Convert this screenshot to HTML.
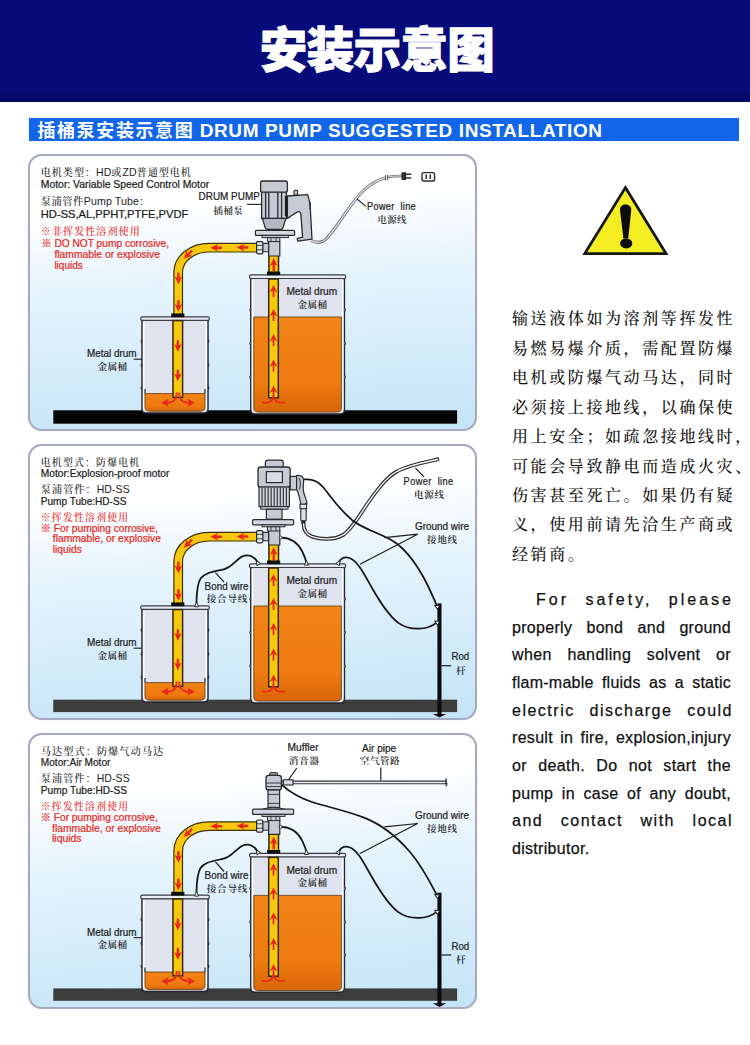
<!DOCTYPE html>
<html lang="zh-CN">
<head>
<meta charset="utf-8">
<title>安装示意图</title>
<style>
html,body{margin:0;padding:0;}
body{width:750px;height:1045px;position:relative;overflow:hidden;background:#fff;
  font-family:"Liberation Sans","Noto Sans CJK SC",sans-serif;}
#hdr{position:absolute;left:0;top:0;width:750px;height:101.5px;
  background:linear-gradient(#080b7a 0,#080b7a 88px,#070a6e 93px,#060966 101.5px);}
#title{position:absolute;left:2px;top:13px;width:750px;text-align:center;color:#fff;
  font-family:"Noto Sans CJK SC","Liberation Sans",sans-serif;font-weight:900;
  font-size:47.5px;line-height:68px;letter-spacing:-0.6px;white-space:nowrap;
  -webkit-text-stroke:1.1px #fff;}
#bar{position:absolute;left:29.2px;top:118.3px;width:709.6px;height:22.6px;background:#1266ea;}
#bar .cn{position:absolute;left:8.3px;top:-3px;color:#fff;font-weight:700;font-size:18px;line-height:28px;
  letter-spacing:1.6px;white-space:nowrap;font-family:"Noto Sans CJK SC",sans-serif;}
#bar .en{position:absolute;left:170.5px;top:-1.8px;color:#fff;font-weight:700;font-size:19px;line-height:28px;
  letter-spacing:0.62px;white-space:nowrap;font-family:"Liberation Sans",sans-serif;}
.panel{position:absolute;left:28px;width:445px;border:2px solid #a6a9bf;border-radius:14px;
  background:linear-gradient(176deg,#ffffff 0%,#ffffff 20%,#e6f4fc 45%,#d3ebf9 75%,#c4e4f6 100%);
  box-shadow:0 0 1px #b9bdd0;}
#p1{top:154.4px;height:272.8px;}
#p2{top:444px;height:272px;}
#p3{top:733.4px;height:271.6px;}
#art{position:absolute;left:0;top:0;width:750px;height:1045px;}
.cnr{position:absolute;left:512px;width:222px;font-family:"Noto Serif CJK SC","Liberation Serif",serif;
  font-size:16px;line-height:30px;height:30px;color:#141414;font-weight:500;white-space:nowrap;letter-spacing:2.6px;}
.enr{position:absolute;left:512px;width:219px;font-family:"Liberation Sans",sans-serif;
  font-size:16px;line-height:28px;height:28px;color:#111;-webkit-text-stroke:0.25px #111;white-space:nowrap;
  text-align:justify;text-align-last:justify;}
</style>
</head>
<body>
<div id="hdr"></div>
<div id="title">安装示意图</div>
<div id="bar"><span class="cn">插桶泵安装示意图</span><span class="en">DRUM PUMP SUGGESTED INSTALLATION</span></div>

<div class="panel" id="p1"></div>
<div class="panel" id="p2"></div>
<div class="panel" id="p3"></div>

<svg id="art" width="750" height="1045" viewBox="0 0 750 1045">
<defs><linearGradient id="liq" x1="0" y1="0" x2="0" y2="1"><stop offset="0" stop-color="#f28416"/><stop offset="0.7" stop-color="#ee7a10"/><stop offset="1" stop-color="#d96608"/></linearGradient></defs>
<path d="M625.4 187.6L666 253.6H584.8Z" fill="#f5ee22" stroke="#161616" stroke-width="2.8" stroke-linejoin="miter"/>
<path d="M620 210C619.4 202.6 631.8 202.6 631.2 210L628.2 238.4H623.4Z" fill="#0c0c0c"/>
<ellipse cx="626.2" cy="243.4" rx="6" ry="5" fill="#0c0c0c"/>
<g transform="translate(0 0)">
<rect x="53.3" y="410.3" width="403.8" height="13.4" fill="#050505"/>
<path d="M257 247.7H209C192 247.7 178.2 258.6 178.2 272.5V314" fill="none" stroke="#3d3208" stroke-width="9.8"/>
<path d="M257 247.7H209C192 247.7 178.2 258.6 178.2 272.5V314" fill="none" stroke="#f8c80f" stroke-width="7.4"/>
<g transform="translate(242.5 247.5) rotate(180)"><path d="M-5.8 0H0.2" stroke="#e8261c" stroke-width="2.4" fill="none"/><path d="M5.8 0L-2 -3.8L0 0L-2 3.8Z" fill="#e8261c"/></g>
<g transform="translate(216.2 247.8) rotate(180)"><path d="M-5.8 0H0.2" stroke="#e8261c" stroke-width="2.4" fill="none"/><path d="M5.8 0L-2 -3.8L0 0L-2 3.8Z" fill="#e8261c"/></g>
<g transform="translate(188 254.6) rotate(135)"><path d="M-5.8 0H0.2" stroke="#e8261c" stroke-width="2.4" fill="none"/><path d="M5.8 0L-2 -3.8L0 0L-2 3.8Z" fill="#e8261c"/></g>
<g transform="translate(178.4 278.5) rotate(90)"><path d="M-5.8 0H0.2" stroke="#e8261c" stroke-width="2.4" fill="none"/><path d="M5.8 0L-2 -3.8L0 0L-2 3.8Z" fill="#e8261c"/></g>
<g transform="translate(178.4 306) rotate(90)"><path d="M-5.8 0H0.2" stroke="#e8261c" stroke-width="2.4" fill="none"/><path d="M5.8 0L-2 -3.8L0 0L-2 3.8Z" fill="#e8261c"/></g>
<path d="M142 319.8V409Q142 413 146 413H204Q208 413 208 409V319.8Z" fill="#dfe3ee" stroke="#26262e" stroke-width="1.5"/>
<path d="M143.7 321.8V409M206.3 321.8V409" stroke="#ffffff" stroke-width="1.6" fill="none" opacity="0.95"/>
<path d="M142 339.4q-1.8 1.6 0 3.2" stroke="#26262e" stroke-width="1.2" fill="#eef0f6"/>
<path d="M208 339.4q1.8 1.6 0 3.2" stroke="#26262e" stroke-width="1.2" fill="#eef0f6"/>
<path d="M142 363.4q-1.8 1.6 0 3.2" stroke="#26262e" stroke-width="1.2" fill="#eef0f6"/>
<path d="M208 363.4q1.8 1.6 0 3.2" stroke="#26262e" stroke-width="1.2" fill="#eef0f6"/>
<path d="M142 386.4q-1.8 1.6 0 3.2" stroke="#26262e" stroke-width="1.2" fill="#eef0f6"/>
<path d="M208 386.4q1.8 1.6 0 3.2" stroke="#26262e" stroke-width="1.2" fill="#eef0f6"/>
<path d="M145 393.6V407.2Q145 411.2 150 411.2H200Q205 411.2 205 407.2V393.6Z" fill="url(#liq)" stroke="#5a3a10" stroke-width="0.8"/>
<path d="M145 389.1V393.6M205 389.1V393.6" stroke="#26262e" stroke-width="1.2"/>
<rect x="140.7" y="316.8" width="68.6" height="3.6" rx="1.6" fill="#e9ecf3" stroke="#3a3c44" stroke-width="1.2"/>
<rect x="173" y="320.6" width="9.6" height="76.8" fill="#f8c80f" stroke="#33290a" stroke-width="1.5"/>
<g transform="translate(177.9 346) rotate(90)"><path d="M-5.8 0H0.2" stroke="#e8261c" stroke-width="2.4" fill="none"/><path d="M5.8 0L-2 -3.8L0 0L-2 3.8Z" fill="#e8261c"/></g>
<g transform="translate(177.9 375.5) rotate(90)"><path d="M-5.8 0H0.2" stroke="#e8261c" stroke-width="2.4" fill="none"/><path d="M5.8 0L-2 -3.8L0 0L-2 3.8Z" fill="#e8261c"/></g>
<path d="M176.6 392.5C176.6 400 174 402.6 166 402.8M179.2 392.5C179.2 400 182 402.6 190 402.8" fill="none" stroke="#e8261c" stroke-width="1.9"/>
<path d="M161.2 402.8L168.4 398.8L167.2 402.8L168.4 406.8ZM194.9 402.8L187.7 398.8L188.9 402.8L187.7 406.8Z" fill="#e8261c"/>
<rect x="171.2" y="313.4" width="13.2" height="3.8" fill="#111"/>
<path d="M250.8 277.9V409.9Q250.8 413.9 254.8 413.9H340.4Q344.4 413.9 344.4 409.9V277.9Z" fill="#dfe3ee" stroke="#26262e" stroke-width="1.5"/>
<path d="M252.5 279.9V409.9M342.7 279.9V409.9" stroke="#ffffff" stroke-width="1.6" fill="none" opacity="0.95"/>
<path d="M250.8 308.4q-1.8 1.6 0 3.2" stroke="#26262e" stroke-width="1.2" fill="#eef0f6"/>
<path d="M344.4 308.4q1.8 1.6 0 3.2" stroke="#26262e" stroke-width="1.2" fill="#eef0f6"/>
<path d="M250.8 341.9q-1.8 1.6 0 3.2" stroke="#26262e" stroke-width="1.2" fill="#eef0f6"/>
<path d="M344.4 341.9q1.8 1.6 0 3.2" stroke="#26262e" stroke-width="1.2" fill="#eef0f6"/>
<path d="M250.8 375.4q-1.8 1.6 0 3.2" stroke="#26262e" stroke-width="1.2" fill="#eef0f6"/>
<path d="M344.4 375.4q1.8 1.6 0 3.2" stroke="#26262e" stroke-width="1.2" fill="#eef0f6"/>
<path d="M253.8 317V408.1Q253.8 412.1 258.8 412.1H336.4Q341.4 412.1 341.4 408.1V317Z" fill="url(#liq)" stroke="#5a3a10" stroke-width="0.8"/>
<rect x="249.5" y="274.9" width="96.2" height="3.6" rx="1.6" fill="#e9ecf3" stroke="#3a3c44" stroke-width="1.2"/>
<rect x="268.7" y="279" width="9.6" height="118.8" fill="#f8c80f" stroke="#33290a" stroke-width="1.5"/>
<path d="M273.5 297V289.5" stroke="#e8261c" stroke-width="1.8" fill="none"/><path d="M273.5 285.1L269.6 292.5L273.5 290.3L277.4 292.5Z" fill="#e8261c"/>
<path d="M273.5 321V313.5" stroke="#e8261c" stroke-width="1.8" fill="none"/><path d="M273.5 309.1L269.6 316.5L273.5 314.3L277.4 316.5Z" fill="#e8261c"/>
<path d="M273.5 346V338.5" stroke="#e8261c" stroke-width="1.8" fill="none"/><path d="M273.5 334.1L269.6 341.5L273.5 339.3L277.4 341.5Z" fill="#e8261c"/>
<path d="M273.5 371.5V364" stroke="#e8261c" stroke-width="1.8" fill="none"/><path d="M273.5 359.6L269.6 367L273.5 364.8L277.4 367Z" fill="#e8261c"/>
<path d="M273.5 397.5V390" stroke="#e8261c" stroke-width="1.8" fill="none"/><path d="M273.5 385.6L269.6 393L273.5 390.8L277.4 393Z" fill="#e8261c"/>
<path d="M262 402.4C269 403.6 272.6 401.5 273.5 396C274.4 401.5 278 403.6 285 402.4" fill="none" stroke="#e8261c" stroke-width="1.6"/>
<rect x="268.9" y="255" width="9.6" height="17.4" fill="#f8c80f" stroke="#33290a" stroke-width="1.5"/>
<g transform="translate(273.7 264.6) rotate(270)"><path d="M-6.5 0H0.9" stroke="#e8261c" stroke-width="2.4" fill="none"/><path d="M6.5 0L-1.3 -3.8L0.7 0L-1.3 3.8Z" fill="#e8261c"/></g>
<rect x="267" y="271.6" width="13.2" height="3.6" fill="#111"/>
<path d="M268.6 241.5H279.8V256H268.6Z" fill="#c6cad4" stroke="#2a2a2a" stroke-width="1.2"/>
<path d="M262.6 243.4H268.6V251.8H262.6Z" fill="#c6cad4" stroke="#2a2a2a" stroke-width="1.1"/>
<rect x="256.6" y="241.6" width="6.2" height="12.2" rx="1.2" fill="#e4e6ec" stroke="#2a2a2a" stroke-width="1.2"/>
<path d="M256.6 245.4H262.8M256.6 249.8H262.8" stroke="#2a2a2a" stroke-width="0.9"/>
<text x="286.4" y="295.4" font-size="10.2" fill="#1c1c1c" font-family='"Liberation Sans","Noto Sans CJK SC",sans-serif' textLength="50.8" lengthAdjust="spacingAndGlyphs" stroke="#1c1c1c" stroke-width="0.22" >Metal drum</text>
<text x="297.6" y="308" font-size="9.6" fill="#262626" font-family='"Liberation Sans","Noto Serif CJK SC",serif' letter-spacing="0.4" font-weight="600" >金属桶</text>
<text x="87" y="357.4" font-size="10.2" fill="#1c1c1c" font-family='"Liberation Sans","Noto Sans CJK SC",sans-serif' textLength="49.6" lengthAdjust="spacingAndGlyphs" stroke="#1c1c1c" stroke-width="0.22" >Metal drum</text>
<text x="97.6" y="369.8" font-size="9.6" fill="#262626" font-family='"Liberation Sans","Noto Serif CJK SC",serif' letter-spacing="0.4" font-weight="600" >金属桶</text>
<path d="M133.6 359.2H142" stroke="#2a2a2a" stroke-width="1.2"/>
</g>
<path d="M311 240.5C316 243 322 243.5 327 238C340 224 350 203 364 190C372 183 380 179 386 177.6" fill="none" stroke="#6d6d72" stroke-width="3"/>
<path d="M311 240.5C316 243 322 243.5 327 238C340 224 350 203 364 190C372 183 380 179 386 177.6" fill="none" stroke="#e9edf2" stroke-width="1.1"/>
<path d="M385.6 175V180.4M387.6 174.6V180" stroke="#444" stroke-width="0.9"/>
<path d="M388 177.2C392 176 396 176 401.5 176" fill="none" stroke="#6d6d72" stroke-width="2.6"/>
<path d="M388 177.2C392 176 396 176 401.5 176" fill="none" stroke="#e9edf2" stroke-width="0.9"/>
<rect x="401.4" y="172.2" width="5" height="7.8" rx="1.2" fill="#2c2c2c"/>
<path d="M406.4 174.2H411.2M406.4 178H411.2" stroke="#2c2c2c" stroke-width="1.5"/>
<rect x="422" y="172.6" width="12.6" height="8.4" rx="1.8" fill="#fbfcfd" stroke="#2c2c2c" stroke-width="1.4"/>
<path d="M426.2 174.6V179M430.3 174.6V179" stroke="#2c2c2c" stroke-width="1.5"/>
<path d="M287.4 196L307.6 194.6C309.6 200 310.4 206 310.6 214L312 239.2L297.8 241.2L297.2 238.6L302.6 237.2L300.8 214C300.6 211.5 299 211.2 296.6 212.4C293 214.4 290 217 287.4 218.4Z" fill="#c6cad4" stroke="#2a2a2a" stroke-width="1.3" stroke-linejoin="round"/>
<path d="M309.4 201C310.8 203 310.8 207 309.8 209" fill="none" stroke="#2a2a2a" stroke-width="1.2"/>
<rect x="294" y="190.4" width="3.6" height="4.6" rx="1" fill="#c6cad4" stroke="#2a2a2a" stroke-width="1.1"/>
<rect x="261.6" y="191.6" width="24.8" height="27" fill="#c6cad4" stroke="#2a2a2a" stroke-width="1.3"/>
<path d="M265.6 192V218" stroke="#2a2a2a" stroke-width="1.3"/>
<path d="M268.8 192V218" stroke="#2a2a2a" stroke-width="1.3"/>
<path d="M277.8 192V218" stroke="#2a2a2a" stroke-width="1.3"/>
<path d="M281.6 192V218" stroke="#2a2a2a" stroke-width="1.3"/>
<path d="M286 196V216" stroke="#1c1c1c" stroke-width="2.2"/>
<rect x="260.6" y="181" width="26.8" height="11.2" rx="2" fill="#c6cad4" stroke="#2a2a2a" stroke-width="1.3"/>
<path d="M262.4 218.4H285.8L283 227.6C282.6 229 281.8 229.4 280.6 229.4H267.6C266.4 229.4 265.6 229 265.2 227.6Z" fill="#b4b8c4" stroke="#2a2a2a" stroke-width="1.3"/>
<rect x="255.4" y="230.4" width="39.2" height="5" rx="1" fill="#d4d7df" stroke="#2a2a2a" stroke-width="1.2"/>
<rect x="262" y="235.4" width="26.4" height="2.2" fill="#c6cad4" stroke="#2a2a2a" stroke-width="1"/>
<path d="M267.4 237.6H279.8V241.6H267.4Z" fill="#c6cad4" stroke="#2a2a2a" stroke-width="1"/>
<path d="M271 237.6V241.6M276 237.6V241.6" stroke="#2a2a2a" stroke-width="0.8"/>
<text x="198.6" y="200.4" font-size="10.4" fill="#1c1c1c" font-family='"Liberation Sans","Noto Sans CJK SC",sans-serif' textLength="61.2" lengthAdjust="spacingAndGlyphs" stroke="#1c1c1c" stroke-width="0.22" >DRUM PUMP</text>
<text x="213.6" y="213.6" font-size="9.4" fill="#262626" font-family='"Liberation Sans","Noto Serif CJK SC",serif' letter-spacing="0.5" font-weight="600" >插桶泵</text>
<path d="M247.2 204.4H261.4" stroke="#2a2a2a" stroke-width="1.2"/>
<text x="367" y="210.2" font-size="10.2" fill="#1c1c1c" font-family='"Liberation Sans","Noto Sans CJK SC",sans-serif' letter-spacing="0.35" textLength="49" lengthAdjust="spacingAndGlyphs" stroke="#1c1c1c" stroke-width="0.22" xml:space="preserve">Power  line</text>
<text x="377.6" y="223.2" font-size="9.4" fill="#262626" font-family='"Liberation Sans","Noto Serif CJK SC",serif' letter-spacing="0.3" font-weight="600" >电源线</text>
<path d="M366 206.4L357 199" stroke="#2a2a2a" stroke-width="1.2"/>
<text x="40.8" y="176" font-size="10" fill="#1e1e1e" font-family='"Liberation Sans","Noto Serif CJK SC",serif' letter-spacing="0.9" font-weight="500" textLength="151" lengthAdjust="spacingAndGlyphs" >电机类型：<tspan letter-spacing="0.1" font-size="10.4">HD</tspan>或<tspan letter-spacing="0.1" font-size="10.4">ZD</tspan>普通型电机</text>
<text x="40.8" y="188.2" font-size="10.2" fill="#1c1c1c" font-family='"Liberation Sans","Noto Sans CJK SC",sans-serif' textLength="168.4" lengthAdjust="spacingAndGlyphs" stroke="#1c1c1c" stroke-width="0.22" >Motor: Variable Speed Control Motor</text>
<text x="40.8" y="205" font-size="10" fill="#1e1e1e" font-family='"Liberation Sans","Noto Serif CJK SC",serif' letter-spacing="0.5" font-weight="500" textLength="109" lengthAdjust="spacingAndGlyphs" >泵浦管件<tspan letter-spacing="0.1" font-size="10.4">Pump Tube</tspan>：</text>
<text x="40.8" y="218" font-size="10.6" fill="#1c1c1c" font-family='"Liberation Sans","Noto Sans CJK SC",sans-serif' textLength="147.6" lengthAdjust="spacingAndGlyphs" stroke="#1c1c1c" stroke-width="0.22" >HD-SS,AL,PPHT,PTFE,PVDF</text>
<text x="40.8" y="235.4" font-size="10" fill="#e8261c" font-family='"Liberation Sans","Noto Serif CJK SC",serif' letter-spacing="1.1" font-weight="500" textLength="100" lengthAdjust="spacingAndGlyphs" >※非挥发性溶剂使用</text>
<text x="41.4" y="247.4" font-size="10.4" fill="#e8261c" font-family='"Liberation Sans","Noto Sans CJK SC",sans-serif' textLength="127.6" lengthAdjust="spacingAndGlyphs" stroke="#e8261c" stroke-width="0.22" >※ DO NOT pump corrosive,</text>
<text x="54.4" y="258.2" font-size="10.4" fill="#e8261c" font-family='"Liberation Sans","Noto Sans CJK SC",sans-serif' textLength="105.6" lengthAdjust="spacingAndGlyphs" stroke="#e8261c" stroke-width="0.22" >flammable or explosive</text>
<text x="54.4" y="268.6" font-size="10.4" fill="#e8261c" font-family='"Liberation Sans","Noto Sans CJK SC",sans-serif' textLength="28.4" lengthAdjust="spacingAndGlyphs" stroke="#e8261c" stroke-width="0.22" >liquids</text>
<g transform="translate(0 289)">
<rect x="53.3" y="410.7" width="403.8" height="12.4" fill="#3d3d3d"/>
<path d="M257 247.7H209C192 247.7 178.2 258.6 178.2 272.5V314" fill="none" stroke="#3d3208" stroke-width="9.8"/>
<path d="M257 247.7H209C192 247.7 178.2 258.6 178.2 272.5V314" fill="none" stroke="#f8c80f" stroke-width="7.4"/>
<g transform="translate(242.5 247.5) rotate(180)"><path d="M-5.8 0H0.2" stroke="#e8261c" stroke-width="2.4" fill="none"/><path d="M5.8 0L-2 -3.8L0 0L-2 3.8Z" fill="#e8261c"/></g>
<g transform="translate(216.2 247.8) rotate(180)"><path d="M-5.8 0H0.2" stroke="#e8261c" stroke-width="2.4" fill="none"/><path d="M5.8 0L-2 -3.8L0 0L-2 3.8Z" fill="#e8261c"/></g>
<g transform="translate(188 254.6) rotate(135)"><path d="M-5.8 0H0.2" stroke="#e8261c" stroke-width="2.4" fill="none"/><path d="M5.8 0L-2 -3.8L0 0L-2 3.8Z" fill="#e8261c"/></g>
<g transform="translate(178.4 278.5) rotate(90)"><path d="M-5.8 0H0.2" stroke="#e8261c" stroke-width="2.4" fill="none"/><path d="M5.8 0L-2 -3.8L0 0L-2 3.8Z" fill="#e8261c"/></g>
<g transform="translate(178.4 306) rotate(90)"><path d="M-5.8 0H0.2" stroke="#e8261c" stroke-width="2.4" fill="none"/><path d="M5.8 0L-2 -3.8L0 0L-2 3.8Z" fill="#e8261c"/></g>
<path d="M142 319.8V409Q142 413 146 413H204Q208 413 208 409V319.8Z" fill="#dfe3ee" stroke="#26262e" stroke-width="1.5"/>
<path d="M143.7 321.8V409M206.3 321.8V409" stroke="#ffffff" stroke-width="1.6" fill="none" opacity="0.95"/>
<path d="M142 339.4q-1.8 1.6 0 3.2" stroke="#26262e" stroke-width="1.2" fill="#eef0f6"/>
<path d="M208 339.4q1.8 1.6 0 3.2" stroke="#26262e" stroke-width="1.2" fill="#eef0f6"/>
<path d="M142 363.4q-1.8 1.6 0 3.2" stroke="#26262e" stroke-width="1.2" fill="#eef0f6"/>
<path d="M208 363.4q1.8 1.6 0 3.2" stroke="#26262e" stroke-width="1.2" fill="#eef0f6"/>
<path d="M142 386.4q-1.8 1.6 0 3.2" stroke="#26262e" stroke-width="1.2" fill="#eef0f6"/>
<path d="M208 386.4q1.8 1.6 0 3.2" stroke="#26262e" stroke-width="1.2" fill="#eef0f6"/>
<path d="M145 393.6V407.2Q145 411.2 150 411.2H200Q205 411.2 205 407.2V393.6Z" fill="url(#liq)" stroke="#5a3a10" stroke-width="0.8"/>
<path d="M145 389.1V393.6M205 389.1V393.6" stroke="#26262e" stroke-width="1.2"/>
<rect x="140.7" y="316.8" width="68.6" height="3.6" rx="1.6" fill="#e9ecf3" stroke="#3a3c44" stroke-width="1.2"/>
<rect x="173" y="320.6" width="9.6" height="76.8" fill="#f8c80f" stroke="#33290a" stroke-width="1.5"/>
<g transform="translate(177.9 346) rotate(90)"><path d="M-5.8 0H0.2" stroke="#e8261c" stroke-width="2.4" fill="none"/><path d="M5.8 0L-2 -3.8L0 0L-2 3.8Z" fill="#e8261c"/></g>
<g transform="translate(177.9 375.5) rotate(90)"><path d="M-5.8 0H0.2" stroke="#e8261c" stroke-width="2.4" fill="none"/><path d="M5.8 0L-2 -3.8L0 0L-2 3.8Z" fill="#e8261c"/></g>
<path d="M176.6 392.5C176.6 400 174 402.6 166 402.8M179.2 392.5C179.2 400 182 402.6 190 402.8" fill="none" stroke="#e8261c" stroke-width="1.9"/>
<path d="M161.2 402.8L168.4 398.8L167.2 402.8L168.4 406.8ZM194.9 402.8L187.7 398.8L188.9 402.8L187.7 406.8Z" fill="#e8261c"/>
<rect x="171.2" y="313.4" width="13.2" height="3.8" fill="#111"/>
<path d="M250.8 277.9V409.9Q250.8 413.9 254.8 413.9H340.4Q344.4 413.9 344.4 409.9V277.9Z" fill="#dfe3ee" stroke="#26262e" stroke-width="1.5"/>
<path d="M252.5 279.9V409.9M342.7 279.9V409.9" stroke="#ffffff" stroke-width="1.6" fill="none" opacity="0.95"/>
<path d="M250.8 308.4q-1.8 1.6 0 3.2" stroke="#26262e" stroke-width="1.2" fill="#eef0f6"/>
<path d="M344.4 308.4q1.8 1.6 0 3.2" stroke="#26262e" stroke-width="1.2" fill="#eef0f6"/>
<path d="M250.8 341.9q-1.8 1.6 0 3.2" stroke="#26262e" stroke-width="1.2" fill="#eef0f6"/>
<path d="M344.4 341.9q1.8 1.6 0 3.2" stroke="#26262e" stroke-width="1.2" fill="#eef0f6"/>
<path d="M250.8 375.4q-1.8 1.6 0 3.2" stroke="#26262e" stroke-width="1.2" fill="#eef0f6"/>
<path d="M344.4 375.4q1.8 1.6 0 3.2" stroke="#26262e" stroke-width="1.2" fill="#eef0f6"/>
<path d="M253.8 317V408.1Q253.8 412.1 258.8 412.1H336.4Q341.4 412.1 341.4 408.1V317Z" fill="url(#liq)" stroke="#5a3a10" stroke-width="0.8"/>
<rect x="249.5" y="274.9" width="96.2" height="3.6" rx="1.6" fill="#e9ecf3" stroke="#3a3c44" stroke-width="1.2"/>
<rect x="268.7" y="279" width="9.6" height="118.8" fill="#f8c80f" stroke="#33290a" stroke-width="1.5"/>
<path d="M273.5 297V289.5" stroke="#e8261c" stroke-width="1.8" fill="none"/><path d="M273.5 285.1L269.6 292.5L273.5 290.3L277.4 292.5Z" fill="#e8261c"/>
<path d="M273.5 321V313.5" stroke="#e8261c" stroke-width="1.8" fill="none"/><path d="M273.5 309.1L269.6 316.5L273.5 314.3L277.4 316.5Z" fill="#e8261c"/>
<path d="M273.5 346V338.5" stroke="#e8261c" stroke-width="1.8" fill="none"/><path d="M273.5 334.1L269.6 341.5L273.5 339.3L277.4 341.5Z" fill="#e8261c"/>
<path d="M273.5 371.5V364" stroke="#e8261c" stroke-width="1.8" fill="none"/><path d="M273.5 359.6L269.6 367L273.5 364.8L277.4 367Z" fill="#e8261c"/>
<path d="M273.5 397.5V390" stroke="#e8261c" stroke-width="1.8" fill="none"/><path d="M273.5 385.6L269.6 393L273.5 390.8L277.4 393Z" fill="#e8261c"/>
<path d="M262 402.4C269 403.6 272.6 401.5 273.5 396C274.4 401.5 278 403.6 285 402.4" fill="none" stroke="#e8261c" stroke-width="1.6"/>
<rect x="268.9" y="255" width="9.6" height="17.4" fill="#f8c80f" stroke="#33290a" stroke-width="1.5"/>
<g transform="translate(273.7 264.6) rotate(270)"><path d="M-6.5 0H0.9" stroke="#e8261c" stroke-width="2.4" fill="none"/><path d="M6.5 0L-1.3 -3.8L0.7 0L-1.3 3.8Z" fill="#e8261c"/></g>
<rect x="267" y="271.6" width="13.2" height="3.6" fill="#111"/>
<path d="M268.6 241.5H279.8V256H268.6Z" fill="#c6cad4" stroke="#2a2a2a" stroke-width="1.2"/>
<path d="M262.6 243.4H268.6V251.8H262.6Z" fill="#c6cad4" stroke="#2a2a2a" stroke-width="1.1"/>
<rect x="256.6" y="241.6" width="6.2" height="12.2" rx="1.2" fill="#e4e6ec" stroke="#2a2a2a" stroke-width="1.2"/>
<path d="M256.6 245.4H262.8M256.6 249.8H262.8" stroke="#2a2a2a" stroke-width="0.9"/>
<text x="286.4" y="295.4" font-size="10.2" fill="#1c1c1c" font-family='"Liberation Sans","Noto Sans CJK SC",sans-serif' textLength="50.8" lengthAdjust="spacingAndGlyphs" stroke="#1c1c1c" stroke-width="0.22" >Metal drum</text>
<text x="297.6" y="308" font-size="9.6" fill="#262626" font-family='"Liberation Sans","Noto Serif CJK SC",serif' letter-spacing="0.4" font-weight="600" >金属桶</text>
<text x="87" y="357.4" font-size="10.2" fill="#1c1c1c" font-family='"Liberation Sans","Noto Sans CJK SC",sans-serif' textLength="49.6" lengthAdjust="spacingAndGlyphs" stroke="#1c1c1c" stroke-width="0.22" >Metal drum</text>
<text x="97.6" y="369.8" font-size="9.6" fill="#262626" font-family='"Liberation Sans","Noto Serif CJK SC",serif' letter-spacing="0.4" font-weight="600" >金属桶</text>
<path d="M133.6 359.2H142" stroke="#2a2a2a" stroke-width="1.2"/>
</g>
<g transform="translate(0 578.4)">
<rect x="53.3" y="410" width="403.8" height="12.4" fill="#3d3d3d"/>
<path d="M257 247.7H209C192 247.7 178.2 258.6 178.2 272.5V314" fill="none" stroke="#3d3208" stroke-width="9.8"/>
<path d="M257 247.7H209C192 247.7 178.2 258.6 178.2 272.5V314" fill="none" stroke="#f8c80f" stroke-width="7.4"/>
<g transform="translate(242.5 247.5) rotate(180)"><path d="M-5.8 0H0.2" stroke="#e8261c" stroke-width="2.4" fill="none"/><path d="M5.8 0L-2 -3.8L0 0L-2 3.8Z" fill="#e8261c"/></g>
<g transform="translate(216.2 247.8) rotate(180)"><path d="M-5.8 0H0.2" stroke="#e8261c" stroke-width="2.4" fill="none"/><path d="M5.8 0L-2 -3.8L0 0L-2 3.8Z" fill="#e8261c"/></g>
<g transform="translate(188 254.6) rotate(135)"><path d="M-5.8 0H0.2" stroke="#e8261c" stroke-width="2.4" fill="none"/><path d="M5.8 0L-2 -3.8L0 0L-2 3.8Z" fill="#e8261c"/></g>
<g transform="translate(178.4 278.5) rotate(90)"><path d="M-5.8 0H0.2" stroke="#e8261c" stroke-width="2.4" fill="none"/><path d="M5.8 0L-2 -3.8L0 0L-2 3.8Z" fill="#e8261c"/></g>
<g transform="translate(178.4 306) rotate(90)"><path d="M-5.8 0H0.2" stroke="#e8261c" stroke-width="2.4" fill="none"/><path d="M5.8 0L-2 -3.8L0 0L-2 3.8Z" fill="#e8261c"/></g>
<path d="M142 319.8V409Q142 413 146 413H204Q208 413 208 409V319.8Z" fill="#dfe3ee" stroke="#26262e" stroke-width="1.5"/>
<path d="M143.7 321.8V409M206.3 321.8V409" stroke="#ffffff" stroke-width="1.6" fill="none" opacity="0.95"/>
<path d="M142 339.4q-1.8 1.6 0 3.2" stroke="#26262e" stroke-width="1.2" fill="#eef0f6"/>
<path d="M208 339.4q1.8 1.6 0 3.2" stroke="#26262e" stroke-width="1.2" fill="#eef0f6"/>
<path d="M142 363.4q-1.8 1.6 0 3.2" stroke="#26262e" stroke-width="1.2" fill="#eef0f6"/>
<path d="M208 363.4q1.8 1.6 0 3.2" stroke="#26262e" stroke-width="1.2" fill="#eef0f6"/>
<path d="M142 386.4q-1.8 1.6 0 3.2" stroke="#26262e" stroke-width="1.2" fill="#eef0f6"/>
<path d="M208 386.4q1.8 1.6 0 3.2" stroke="#26262e" stroke-width="1.2" fill="#eef0f6"/>
<path d="M145 393.6V407.2Q145 411.2 150 411.2H200Q205 411.2 205 407.2V393.6Z" fill="url(#liq)" stroke="#5a3a10" stroke-width="0.8"/>
<path d="M145 389.1V393.6M205 389.1V393.6" stroke="#26262e" stroke-width="1.2"/>
<rect x="140.7" y="316.8" width="68.6" height="3.6" rx="1.6" fill="#e9ecf3" stroke="#3a3c44" stroke-width="1.2"/>
<rect x="173" y="320.6" width="9.6" height="76.8" fill="#f8c80f" stroke="#33290a" stroke-width="1.5"/>
<g transform="translate(177.9 346) rotate(90)"><path d="M-5.8 0H0.2" stroke="#e8261c" stroke-width="2.4" fill="none"/><path d="M5.8 0L-2 -3.8L0 0L-2 3.8Z" fill="#e8261c"/></g>
<g transform="translate(177.9 375.5) rotate(90)"><path d="M-5.8 0H0.2" stroke="#e8261c" stroke-width="2.4" fill="none"/><path d="M5.8 0L-2 -3.8L0 0L-2 3.8Z" fill="#e8261c"/></g>
<path d="M176.6 392.5C176.6 400 174 402.6 166 402.8M179.2 392.5C179.2 400 182 402.6 190 402.8" fill="none" stroke="#e8261c" stroke-width="1.9"/>
<path d="M161.2 402.8L168.4 398.8L167.2 402.8L168.4 406.8ZM194.9 402.8L187.7 398.8L188.9 402.8L187.7 406.8Z" fill="#e8261c"/>
<rect x="171.2" y="313.4" width="13.2" height="3.8" fill="#111"/>
<path d="M250.8 277.9V409.9Q250.8 413.9 254.8 413.9H340.4Q344.4 413.9 344.4 409.9V277.9Z" fill="#dfe3ee" stroke="#26262e" stroke-width="1.5"/>
<path d="M252.5 279.9V409.9M342.7 279.9V409.9" stroke="#ffffff" stroke-width="1.6" fill="none" opacity="0.95"/>
<path d="M250.8 308.4q-1.8 1.6 0 3.2" stroke="#26262e" stroke-width="1.2" fill="#eef0f6"/>
<path d="M344.4 308.4q1.8 1.6 0 3.2" stroke="#26262e" stroke-width="1.2" fill="#eef0f6"/>
<path d="M250.8 341.9q-1.8 1.6 0 3.2" stroke="#26262e" stroke-width="1.2" fill="#eef0f6"/>
<path d="M344.4 341.9q1.8 1.6 0 3.2" stroke="#26262e" stroke-width="1.2" fill="#eef0f6"/>
<path d="M250.8 375.4q-1.8 1.6 0 3.2" stroke="#26262e" stroke-width="1.2" fill="#eef0f6"/>
<path d="M344.4 375.4q1.8 1.6 0 3.2" stroke="#26262e" stroke-width="1.2" fill="#eef0f6"/>
<path d="M253.8 317V408.1Q253.8 412.1 258.8 412.1H336.4Q341.4 412.1 341.4 408.1V317Z" fill="url(#liq)" stroke="#5a3a10" stroke-width="0.8"/>
<rect x="249.5" y="274.9" width="96.2" height="3.6" rx="1.6" fill="#e9ecf3" stroke="#3a3c44" stroke-width="1.2"/>
<rect x="268.7" y="279" width="9.6" height="118.8" fill="#f8c80f" stroke="#33290a" stroke-width="1.5"/>
<path d="M273.5 297V289.5" stroke="#e8261c" stroke-width="1.8" fill="none"/><path d="M273.5 285.1L269.6 292.5L273.5 290.3L277.4 292.5Z" fill="#e8261c"/>
<path d="M273.5 321V313.5" stroke="#e8261c" stroke-width="1.8" fill="none"/><path d="M273.5 309.1L269.6 316.5L273.5 314.3L277.4 316.5Z" fill="#e8261c"/>
<path d="M273.5 346V338.5" stroke="#e8261c" stroke-width="1.8" fill="none"/><path d="M273.5 334.1L269.6 341.5L273.5 339.3L277.4 341.5Z" fill="#e8261c"/>
<path d="M273.5 371.5V364" stroke="#e8261c" stroke-width="1.8" fill="none"/><path d="M273.5 359.6L269.6 367L273.5 364.8L277.4 367Z" fill="#e8261c"/>
<path d="M273.5 397.5V390" stroke="#e8261c" stroke-width="1.8" fill="none"/><path d="M273.5 385.6L269.6 393L273.5 390.8L277.4 393Z" fill="#e8261c"/>
<path d="M262 402.4C269 403.6 272.6 401.5 273.5 396C274.4 401.5 278 403.6 285 402.4" fill="none" stroke="#e8261c" stroke-width="1.6"/>
<rect x="268.9" y="255" width="9.6" height="17.4" fill="#f8c80f" stroke="#33290a" stroke-width="1.5"/>
<g transform="translate(273.7 264.6) rotate(270)"><path d="M-6.5 0H0.9" stroke="#e8261c" stroke-width="2.4" fill="none"/><path d="M6.5 0L-1.3 -3.8L0.7 0L-1.3 3.8Z" fill="#e8261c"/></g>
<rect x="267" y="271.6" width="13.2" height="3.6" fill="#111"/>
<path d="M268.6 241.5H279.8V256H268.6Z" fill="#c6cad4" stroke="#2a2a2a" stroke-width="1.2"/>
<path d="M262.6 243.4H268.6V251.8H262.6Z" fill="#c6cad4" stroke="#2a2a2a" stroke-width="1.1"/>
<rect x="256.6" y="241.6" width="6.2" height="12.2" rx="1.2" fill="#e4e6ec" stroke="#2a2a2a" stroke-width="1.2"/>
<path d="M256.6 245.4H262.8M256.6 249.8H262.8" stroke="#2a2a2a" stroke-width="0.9"/>
<text x="286.4" y="295.4" font-size="10.2" fill="#1c1c1c" font-family='"Liberation Sans","Noto Sans CJK SC",sans-serif' textLength="50.8" lengthAdjust="spacingAndGlyphs" stroke="#1c1c1c" stroke-width="0.22" >Metal drum</text>
<text x="297.6" y="308" font-size="9.6" fill="#262626" font-family='"Liberation Sans","Noto Serif CJK SC",serif' letter-spacing="0.4" font-weight="600" >金属桶</text>
<text x="87" y="357.4" font-size="10.2" fill="#1c1c1c" font-family='"Liberation Sans","Noto Sans CJK SC",sans-serif' textLength="49.6" lengthAdjust="spacingAndGlyphs" stroke="#1c1c1c" stroke-width="0.22" >Metal drum</text>
<text x="97.6" y="369.8" font-size="9.6" fill="#262626" font-family='"Liberation Sans","Noto Serif CJK SC",serif' letter-spacing="0.4" font-weight="600" >金属桶</text>
<path d="M133.6 359.2H142" stroke="#2a2a2a" stroke-width="1.2"/>
</g>
<path d="M303.4 523C303.6 530 306 534.6 312 536.6C320 539.4 334 540.4 343 535C352 529.6 360 514 370 500C378 489 386 478 396 472C408 465 426 462 438.6 459.2" fill="none" stroke="#2c2c2c" stroke-width="3.8" stroke-linecap="butt"/>
<path d="M303.4 523C303.6 530 306 534.6 312 536.6C320 539.4 334 540.4 343 535C352 529.6 360 514 370 500C378 489 386 478 396 472C408 465 426 462 438.6 459.2" fill="none" stroke="#f6f8fa" stroke-width="1.4" stroke-linecap="butt"/>
<path d="M438.2 457.6L439 460.8" stroke="#333" stroke-width="1"/>
<path d="M304.4 479.4C312 478.6 318 481 323 487C330 495.4 338 508 352 520C364 530 384 534 396 543C410 553.6 420 570 427 584C431 592 434 599 436.4 604.6" fill="none" stroke="#161616" stroke-width="1.75" stroke-linecap="round"/>
<g transform="translate(0 0)">
<path d="M196.4 603.6C196.6 594 197 584 200.6 578.6C204.6 572.6 214 571.6 223 569.6C232 567.6 236 559.4 242.4 556.4C248.6 553.6 254 557 257.4 561.6" fill="none" stroke="#161616" stroke-width="1.75" stroke-linecap="round"/>
<path d="M281.4 537.6C291 538 298 543 302 551C304.2 555.6 305.6 559 306.2 562" fill="none" stroke="#161616" stroke-width="1.75" stroke-linecap="round"/>
<path d="M339 561.6C341.6 557.6 346 556.6 350 558.2C358 561.6 364 574 372 588C380 602 388 615 398 622.6C410 631.4 428 630 436.6 622.6" fill="none" stroke="#161616" stroke-width="1.75" stroke-linecap="round"/>
<g transform="translate(196.6 605) rotate(0)"><path d="M-2.1 1.8L0 -2.8L2.1 1.8Z" fill="#f4f4f4" stroke="#222" stroke-width="0.9" stroke-linejoin="round"/></g>
<g transform="translate(257.8 563) rotate(-35)"><path d="M-2.1 1.8L0 -2.8L2.1 1.8Z" fill="#f4f4f4" stroke="#222" stroke-width="0.9" stroke-linejoin="round"/></g>
<g transform="translate(306.4 563.4) rotate(0)"><path d="M-2.1 1.8L0 -2.8L2.1 1.8Z" fill="#f4f4f4" stroke="#222" stroke-width="0.9" stroke-linejoin="round"/></g>
<g transform="translate(338.6 563) rotate(35)"><path d="M-2.1 1.8L0 -2.8L2.1 1.8Z" fill="#f4f4f4" stroke="#222" stroke-width="0.9" stroke-linejoin="round"/></g>
<circle cx="280.6" cy="537.6" r="1.5" fill="#f4f4f4" stroke="#222" stroke-width="0.9"/>
<rect x="437.4" y="603.4" width="4.1" height="111.4" fill="#0b0b12"/>
<path d="M432.8 714L446.2 714L439.5 717.6Z" fill="#0b0b12"/>
<g transform="translate(437 606.6) rotate(-60)"><path d="M-2.1 1.8L0 -2.8L2.1 1.8Z" fill="#f4f4f4" stroke="#222" stroke-width="0.9" stroke-linejoin="round"/></g>
<g transform="translate(437 622.4) rotate(-60)"><path d="M-2.1 1.8L0 -2.8L2.1 1.8Z" fill="#f4f4f4" stroke="#222" stroke-width="0.9" stroke-linejoin="round"/></g>
<text x="204.6" y="590" font-size="10.2" fill="#1c1c1c" font-family='"Liberation Sans","Noto Sans CJK SC",sans-serif' textLength="44" lengthAdjust="spacingAndGlyphs" stroke="#1c1c1c" stroke-width="0.22" >Bond wire</text>
<text x="206.8" y="602.4" font-size="9.6" fill="#262626" font-family='"Liberation Sans","Noto Serif CJK SC",serif' letter-spacing="0.7" font-weight="600" >接合导线</text>
<path d="M215.4 572.6L224 582.2" stroke="#1c1c1c" stroke-width="1.2"/>
<text x="415" y="530" font-size="10.2" fill="#1c1c1c" font-family='"Liberation Sans","Noto Sans CJK SC",sans-serif' textLength="54" lengthAdjust="spacingAndGlyphs" stroke="#1c1c1c" stroke-width="0.22" >Ground wire</text>
<text x="427" y="543" font-size="9.6" fill="#262626" font-family='"Liberation Sans","Noto Serif CJK SC",serif' letter-spacing="0.6" font-weight="600" >接地线</text>
<path d="M384.4 537.6L417.6 534.2L360 564.2" fill="none" stroke="#1c1c1c" stroke-width="1.2"/>
<text x="451.4" y="660.4" font-size="10.6" fill="#1c1c1c" font-family='"Liberation Sans","Noto Sans CJK SC",sans-serif' textLength="17.8" lengthAdjust="spacingAndGlyphs" stroke="#1c1c1c" stroke-width="0.22" >Rod</text>
<text x="456" y="673.6" font-size="9.6" fill="#262626" font-family='"Liberation Sans","Noto Serif CJK SC",serif' font-weight="600" >杆</text>
<path d="M441.4 665.7H451.2" stroke="#1c1c1c" stroke-width="1.2"/>
</g>
<path d="M265.4 467.6V462.6Q265.4 460.2 267.8 460.2H280.8Q283.2 460.2 283.2 462.6V467.6Z" fill="#c6cad4" stroke="#2a2a2a" stroke-width="1.2"/>
<rect x="258" y="467" width="32.2" height="20.4" rx="3" fill="#c6cad4" stroke="#2a2a2a" stroke-width="1.3"/>
<rect x="266.4" y="471.6" width="16" height="11" fill="#d9dce4" stroke="#2a2a2a" stroke-width="1.2"/>
<rect x="259" y="487" width="30.4" height="19.6" fill="#d2d5dd" stroke="#2a2a2a" stroke-width="1.2"/>
<path d="M262.04 487.4V506.2M265.08 487.4V506.2M268.12 487.4V506.2M271.16 487.4V506.2M274.2 487.4V506.2M277.24 487.4V506.2M280.28 487.4V506.2M283.32 487.4V506.2M286.36 487.4V506.2" stroke="#2a2a2a" stroke-width="1.1"/>
<rect x="260.6" y="506.6" width="27.4" height="2.6" fill="#c6cad4" stroke="#2a2a2a" stroke-width="1"/>
<rect x="266.4" y="509.2" width="15.6" height="10" fill="#c6cad4" stroke="#2a2a2a" stroke-width="1.2"/>
<rect x="252.6" y="519.6" width="41" height="5.2" rx="1" fill="#d4d7df" stroke="#2a2a2a" stroke-width="1.2"/>
<rect x="262" y="524.8" width="23" height="2" fill="#c6cad4" stroke="#2a2a2a" stroke-width="1"/>
<path d="M267.4 526.8H279.8V531H267.4Z" fill="#c6cad4" stroke="#2a2a2a" stroke-width="1"/>
<path d="M271 526.8V531M276 526.8V531" stroke="#2a2a2a" stroke-width="0.8"/>
<rect x="290.2" y="476.4" width="8.6" height="13.4" fill="#c6cad4" stroke="#2a2a2a" stroke-width="1.2"/>
<path d="M296.6 475.6C300 474.6 303.4 476.4 303.6 480C303.8 484 302.6 488 303.6 492C304.6 496 306.6 499.6 307 503.6L301 505.2C300.4 501 299.2 497 298.4 493.6C297.8 491 297.4 490.4 296.6 489.8Z" fill="#c6cad4" stroke="#2a2a2a" stroke-width="1.2" stroke-linejoin="round"/>
<path d="M299 478C300.6 480 300.8 486 299.4 489.6" fill="none" stroke="#2a2a2a" stroke-width="1"/>
<rect x="300" y="504.2" width="6.6" height="4.6" fill="#e3e5ea" stroke="#2a2a2a" stroke-width="1.1"/>
<rect x="300.8" y="508.8" width="5.4" height="12" rx="1" fill="#dfe1e7" stroke="#2a2a2a" stroke-width="1.1"/>
<rect x="301.2" y="520.8" width="4.4" height="2.6" fill="#2a2a2a"/>
<text x="403.6" y="485.2" font-size="10.2" fill="#1c1c1c" font-family='"Liberation Sans","Noto Sans CJK SC",sans-serif' letter-spacing="0.45" textLength="50" lengthAdjust="spacingAndGlyphs" stroke="#1c1c1c" stroke-width="0.22" xml:space="preserve">Power  line</text>
<text x="414" y="498" font-size="9.6" fill="#262626" font-family='"Liberation Sans","Noto Serif CJK SC",serif' letter-spacing="0.6" font-weight="600" >电源线</text>
<path d="M424 476.8L415.4 468.2" stroke="#1c1c1c" stroke-width="1.2"/>
<text x="40.8" y="466" font-size="10" fill="#1e1e1e" font-family='"Liberation Sans","Noto Serif CJK SC",serif' letter-spacing="1.2" font-weight="500" textLength="99.6" lengthAdjust="spacingAndGlyphs" >电机型式：防爆电机</text>
<text x="40.8" y="476.8" font-size="10.2" fill="#1c1c1c" font-family='"Liberation Sans","Noto Sans CJK SC",sans-serif' textLength="128.6" lengthAdjust="spacingAndGlyphs" stroke="#1c1c1c" stroke-width="0.22" >Motor:Explosion-proof motor</text>
<text x="40.8" y="493.4" font-size="10" fill="#1e1e1e" font-family='"Liberation Sans","Noto Serif CJK SC",serif' letter-spacing="1.1" font-weight="500" textLength="89" lengthAdjust="spacingAndGlyphs" >泵浦管件：<tspan letter-spacing="0.1" font-size="10.4">HD-SS</tspan></text>
<text x="40.8" y="504.6" font-size="10.4" fill="#1c1c1c" font-family='"Liberation Sans","Noto Sans CJK SC",sans-serif' textLength="85.6" lengthAdjust="spacingAndGlyphs" stroke="#1c1c1c" stroke-width="0.22" >Pump Tube:HD-SS</text>
<text x="40.8" y="521" font-size="10" fill="#e8261c" font-family='"Liberation Sans","Noto Serif CJK SC",serif' letter-spacing="1.3" font-weight="500" textLength="88.6" lengthAdjust="spacingAndGlyphs" >※挥发性溶剂使用</text>
<text x="40.8" y="531.6" font-size="10.4" fill="#e8261c" font-family='"Liberation Sans","Noto Sans CJK SC",sans-serif' textLength="117" lengthAdjust="spacingAndGlyphs" stroke="#e8261c" stroke-width="0.22" >※ For pumping corrosive,</text>
<text x="52.8" y="542.4" font-size="10.4" fill="#e8261c" font-family='"Liberation Sans","Noto Sans CJK SC",sans-serif' textLength="108.2" lengthAdjust="spacingAndGlyphs" stroke="#e8261c" stroke-width="0.22" >flammable, or explosive</text>
<text x="52.8" y="552.6" font-size="10.4" fill="#e8261c" font-family='"Liberation Sans","Noto Sans CJK SC",sans-serif' textLength="29" lengthAdjust="spacingAndGlyphs" stroke="#e8261c" stroke-width="0.22" >liquids</text>
<path d="M292.6 782.4H446" stroke="#333" stroke-width="3.6"/>
<path d="M292.6 782.4H445.4" stroke="#eef1f5" stroke-width="1.5"/>
<path d="M445.6 778.6C447.6 780 444.6 781.6 446.6 783.2C447.6 784 446.4 785.4 445.4 786" fill="none" stroke="#1c1c1c" stroke-width="1.2"/>
<path d="M282.6 785.6C290 792 300 798 312 802C326 806.6 346 810.6 364 817.6C384 825.4 398 838 410 852C422 866 430 882 436.4 894.2" fill="none" stroke="#161616" stroke-width="1.75" stroke-linecap="round"/>
<g transform="translate(0 289.3)">
<path d="M196.4 603.6C196.6 594 197 584 200.6 578.6C204.6 572.6 214 571.6 223 569.6C232 567.6 236 559.4 242.4 556.4C248.6 553.6 254 557 257.4 561.6" fill="none" stroke="#161616" stroke-width="1.75" stroke-linecap="round"/>
<path d="M281.4 537.6C291 538 298 543 302 551C304.2 555.6 305.6 559 306.2 562" fill="none" stroke="#161616" stroke-width="1.75" stroke-linecap="round"/>
<path d="M339 561.6C341.6 557.6 346 556.6 350 558.2C358 561.6 364 574 372 588C380 602 388 615 398 622.6C410 631.4 428 630 436.6 622.6" fill="none" stroke="#161616" stroke-width="1.75" stroke-linecap="round"/>
<g transform="translate(196.6 605) rotate(0)"><path d="M-2.1 1.8L0 -2.8L2.1 1.8Z" fill="#f4f4f4" stroke="#222" stroke-width="0.9" stroke-linejoin="round"/></g>
<g transform="translate(257.8 563) rotate(-35)"><path d="M-2.1 1.8L0 -2.8L2.1 1.8Z" fill="#f4f4f4" stroke="#222" stroke-width="0.9" stroke-linejoin="round"/></g>
<g transform="translate(306.4 563.4) rotate(0)"><path d="M-2.1 1.8L0 -2.8L2.1 1.8Z" fill="#f4f4f4" stroke="#222" stroke-width="0.9" stroke-linejoin="round"/></g>
<g transform="translate(338.6 563) rotate(35)"><path d="M-2.1 1.8L0 -2.8L2.1 1.8Z" fill="#f4f4f4" stroke="#222" stroke-width="0.9" stroke-linejoin="round"/></g>
<circle cx="280.6" cy="537.6" r="1.5" fill="#f4f4f4" stroke="#222" stroke-width="0.9"/>
<rect x="437.4" y="603.4" width="4.1" height="111.4" fill="#0b0b12"/>
<path d="M432.8 714L446.2 714L439.5 717.6Z" fill="#0b0b12"/>
<g transform="translate(437 606.6) rotate(-60)"><path d="M-2.1 1.8L0 -2.8L2.1 1.8Z" fill="#f4f4f4" stroke="#222" stroke-width="0.9" stroke-linejoin="round"/></g>
<g transform="translate(437 622.4) rotate(-60)"><path d="M-2.1 1.8L0 -2.8L2.1 1.8Z" fill="#f4f4f4" stroke="#222" stroke-width="0.9" stroke-linejoin="round"/></g>
<text x="204.6" y="590" font-size="10.2" fill="#1c1c1c" font-family='"Liberation Sans","Noto Sans CJK SC",sans-serif' textLength="44" lengthAdjust="spacingAndGlyphs" stroke="#1c1c1c" stroke-width="0.22" >Bond wire</text>
<text x="206.8" y="602.4" font-size="9.6" fill="#262626" font-family='"Liberation Sans","Noto Serif CJK SC",serif' letter-spacing="0.7" font-weight="600" >接合导线</text>
<path d="M215.4 572.6L224 582.2" stroke="#1c1c1c" stroke-width="1.2"/>
<text x="415" y="530" font-size="10.2" fill="#1c1c1c" font-family='"Liberation Sans","Noto Sans CJK SC",sans-serif' textLength="54" lengthAdjust="spacingAndGlyphs" stroke="#1c1c1c" stroke-width="0.22" >Ground wire</text>
<text x="427" y="543" font-size="9.6" fill="#262626" font-family='"Liberation Sans","Noto Serif CJK SC",serif' letter-spacing="0.6" font-weight="600" >接地线</text>
<path d="M384.4 537.6L417.6 534.2L360 564.2" fill="none" stroke="#1c1c1c" stroke-width="1.2"/>
<text x="451.4" y="660.4" font-size="10.6" fill="#1c1c1c" font-family='"Liberation Sans","Noto Sans CJK SC",sans-serif' textLength="17.8" lengthAdjust="spacingAndGlyphs" stroke="#1c1c1c" stroke-width="0.22" >Rod</text>
<text x="456" y="673.6" font-size="9.6" fill="#262626" font-family='"Liberation Sans","Noto Serif CJK SC",serif' font-weight="600" >杆</text>
<path d="M441.4 665.7H451.2" stroke="#1c1c1c" stroke-width="1.2"/>
</g>
<rect x="269.6" y="772.6" width="8" height="3.4" rx="1" fill="#8c909a" stroke="#2a2a2a" stroke-width="1"/>
<rect x="266" y="775.4" width="15.4" height="14.6" rx="2.6" fill="#c6cad4" stroke="#2a2a2a" stroke-width="1.3"/>
<path d="M266.4 783H281M266.4 786.6H281" stroke="#2a2a2a" stroke-width="0.9"/>
<rect x="268" y="790" width="11.6" height="17.4" fill="#c6cad4" stroke="#2a2a2a" stroke-width="1.2"/>
<path d="M268 794.4H279.6M268 803.4H279.6" stroke="#2a2a2a" stroke-width="0.9"/>
<path d="M262 809.4Q273.6 805.4 285 809.4Z" fill="#c6cad4" stroke="#2a2a2a" stroke-width="1"/>
<rect x="281.4" y="780.8" width="2.4" height="3.6" fill="#999" stroke="#2a2a2a" stroke-width="0.8"/>
<rect x="283.4" y="779.8" width="9.6" height="5.2" fill="#d9dbe2" stroke="#2a2a2a" stroke-width="1.1"/>
<rect x="252.6" y="809.2" width="41" height="5.2" rx="1" fill="#d4d7df" stroke="#2a2a2a" stroke-width="1.2"/>
<rect x="262" y="814.4" width="23" height="2" fill="#c6cad4" stroke="#2a2a2a" stroke-width="1"/>
<path d="M267.4 816.4H279.8V820.6H267.4Z" fill="#c6cad4" stroke="#2a2a2a" stroke-width="1"/>
<path d="M271 816.4V820.6M276 816.4V820.6" stroke="#2a2a2a" stroke-width="0.8"/>
<text x="287.6" y="751.2" font-size="10.4" fill="#1c1c1c" font-family='"Liberation Sans","Noto Sans CJK SC",sans-serif' textLength="31" lengthAdjust="spacingAndGlyphs" stroke="#1c1c1c" stroke-width="0.22" >Muffler</text>
<text x="288.8" y="764" font-size="9.6" fill="#262626" font-family='"Liberation Sans","Noto Serif CJK SC",serif' letter-spacing="0.6" font-weight="600" >消音器</text>
<path d="M296.8 768L288.4 780" stroke="#1c1c1c" stroke-width="1.2"/>
<text x="362" y="751.6" font-size="10.4" fill="#1c1c1c" font-family='"Liberation Sans","Noto Sans CJK SC",sans-serif' textLength="34.2" lengthAdjust="spacingAndGlyphs" stroke="#1c1c1c" stroke-width="0.22" >Air pipe</text>
<text x="359.8" y="764.4" font-size="9.6" fill="#262626" font-family='"Liberation Sans","Noto Serif CJK SC",serif' letter-spacing="0.5" font-weight="600" >空气管路</text>
<path d="M380.8 767.6V780.4" stroke="#1c1c1c" stroke-width="1.2"/>
<text x="40.8" y="755.4" font-size="10" fill="#1e1e1e" font-family='"Liberation Sans","Noto Serif CJK SC",serif' letter-spacing="1" font-weight="500" textLength="123.4" lengthAdjust="spacingAndGlyphs" >马达型式：防爆气动马达</text>
<text x="40.8" y="766.2" font-size="10.4" fill="#1c1c1c" font-family='"Liberation Sans","Noto Sans CJK SC",sans-serif' textLength="69.6" lengthAdjust="spacingAndGlyphs" stroke="#1c1c1c" stroke-width="0.22" >Motor:Air Motor</text>
<text x="40.8" y="782.2" font-size="10" fill="#1e1e1e" font-family='"Liberation Sans","Noto Serif CJK SC",serif' letter-spacing="1.1" font-weight="500" textLength="89" lengthAdjust="spacingAndGlyphs" >泵浦管件：<tspan letter-spacing="0.1" font-size="10.4">HD-SS</tspan></text>
<text x="40.8" y="793.8" font-size="10.4" fill="#1c1c1c" font-family='"Liberation Sans","Noto Sans CJK SC",sans-serif' textLength="86.2" lengthAdjust="spacingAndGlyphs" stroke="#1c1c1c" stroke-width="0.22" >Pump Tube:HD-SS</text>
<text x="40.8" y="810.2" font-size="10" fill="#e8261c" font-family='"Liberation Sans","Noto Serif CJK SC",serif' letter-spacing="1.3" font-weight="500" textLength="88.6" lengthAdjust="spacingAndGlyphs" >※挥发性溶剂使用</text>
<text x="40.8" y="820.8" font-size="10.4" fill="#e8261c" font-family='"Liberation Sans","Noto Sans CJK SC",sans-serif' textLength="117" lengthAdjust="spacingAndGlyphs" stroke="#e8261c" stroke-width="0.22" >※ For pumping corrosive,</text>
<text x="52" y="831.8" font-size="10.4" fill="#e8261c" font-family='"Liberation Sans","Noto Sans CJK SC",sans-serif' textLength="108.8" lengthAdjust="spacingAndGlyphs" stroke="#e8261c" stroke-width="0.22" >flammable, or explosive</text>
<text x="52" y="841.8" font-size="10.4" fill="#e8261c" font-family='"Liberation Sans","Noto Sans CJK SC",sans-serif' textLength="29.6" lengthAdjust="spacingAndGlyphs" stroke="#e8261c" stroke-width="0.22" >liquids</text>
</svg>


<!-- right column: Chinese -->
<div class="cnr" style="top:303.3px">输送液体如为溶剂等挥发性</div>
<div class="cnr" style="top:332.7px">易燃易爆介质，需配置防爆</div>
<div class="cnr" style="top:362.2px">电机或防爆气动马达，同时</div>
<div class="cnr" style="top:391.6px">必须接上接地线，以确保使</div>
<div class="cnr" style="top:421.1px">用上安全；如疏忽接地线时，</div>
<div class="cnr" style="top:450.5px">可能会导致静电而造成火灾、</div>
<div class="cnr" style="top:480.0px">伤害甚至死亡。如果仍有疑</div>
<div class="cnr" style="top:509.4px">义，使用前请先洽生产商或</div>
<div class="cnr" style="top:538.9px">经销商。</div>

<!-- right column: English -->
<div class="enr" style="top:586.0px;left:536px;width:198px;letter-spacing:3.00px">For safety, please</div>
<div class="enr" style="top:613.6px;left:512px;width:219px;letter-spacing:0.30px">properly bond and ground</div>
<div class="enr" style="top:641.3px;left:512px;width:219px;letter-spacing:0.40px">when handling solvent or</div>
<div class="enr" style="top:669.0px;left:512px;width:219px;letter-spacing:0.25px">flam-mable fluids as a static</div>
<div class="enr" style="top:696.6px;left:512px;width:221px;letter-spacing:1.50px">electric discharge could</div>
<div class="enr" style="top:724.3px;left:512px;width:219px;letter-spacing:0.30px">result in fire, explosion,injury</div>
<div class="enr" style="top:751.9px;left:512px;width:219px;letter-spacing:0.40px">or death. Do not start the</div>
<div class="enr" style="top:779.5px;left:512px;width:219px;letter-spacing:0.30px">pump in case of any doubt,</div>
<div class="enr" style="top:807.2px;left:512px;width:221px;letter-spacing:1.50px">and contact with local</div>
<div class="enr" style="top:834.9px;left:512px;width:219px;letter-spacing:0.30px;text-align-last:left">distributor.</div>
</body>
</html>
